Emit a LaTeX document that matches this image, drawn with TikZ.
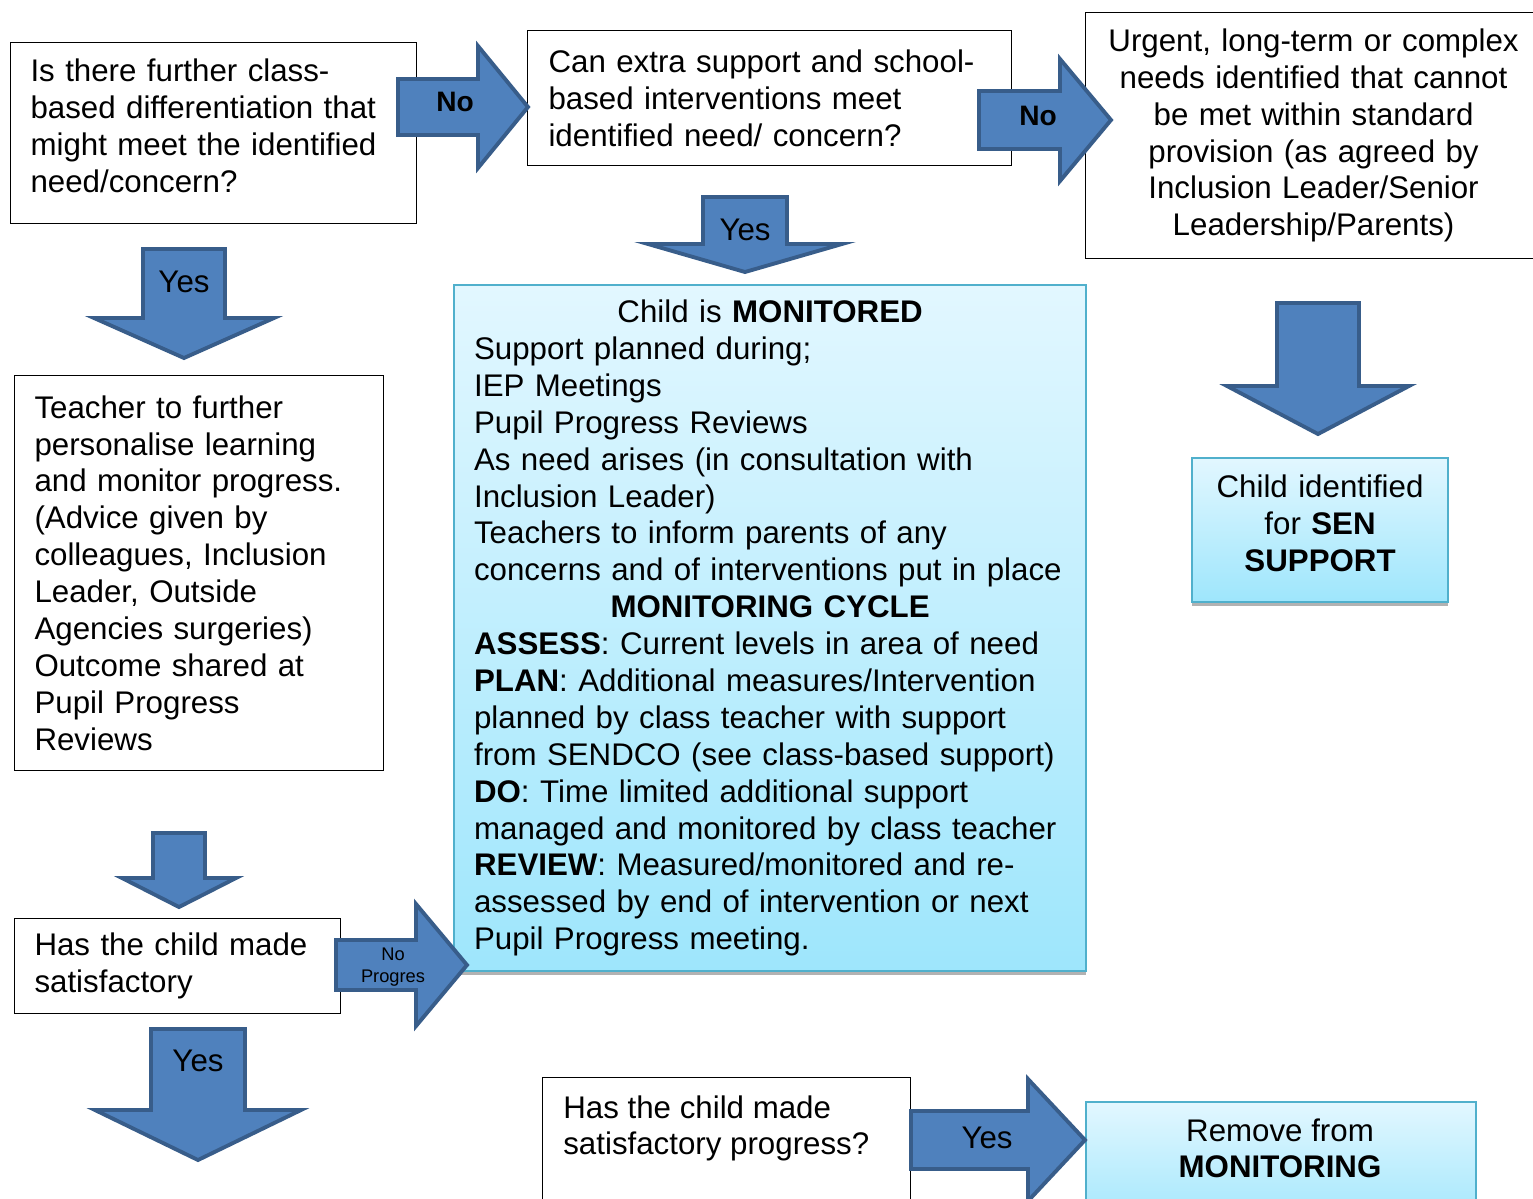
\documentclass[tikz,border=0pt]{standalone}
\usepackage{fontspec}
\setmainfont{Liberation Sans}
\usetikzlibrary{shadows}

\definecolor{arrfill}{RGB}{79,129,189}
\definecolor{arrline}{RGB}{56,93,138}
\definecolor{cyantop}{RGB}{226,247,255}
\definecolor{cyanbot}{RGB}{158,230,252}
\definecolor{cyanline}{RGB}{80,176,204}
\newlength{\pix}\setlength{\pix}{0.02cm}
\newcommand{\bodyfont}{\fontsize{17.8}{21}\selectfont}

% block arrows: start, head, tip, middle, half shaft, half head
\newcommand{\rightblock}[6]{%
  \filldraw[blockarr] (#1,#4-#5) -- (#2,#4-#5) -- (#2,#4-#6) -- (#3,#4)
    -- (#2,#4+#6) -- (#2,#4+#5) -- (#1,#4+#5) -- cycle;}
\newcommand{\downblock}[6]{%
  \filldraw[blockarr] (#4-#5,#1) -- (#4-#5,#2) -- (#4-#6,#2) -- (#4,#3)
    -- (#4+#6,#2) -- (#4+#5,#2) -- (#4+#5,#1) -- cycle;}

\begin{document}
\begin{tikzpicture}[x=0.02cm, y=-0.02cm,
    blockarr/.style={fill=arrfill, draw=arrline, line width=2.2pt, line join=miter},
    plainbox/.style={draw=black, line width=0.6pt, anchor=north west, inner xsep=20\pix,
      inner ysep=0pt, align=left, font=\bodyfont},
    cyanbox/.style={plainbox, draw=cyanline, line width=1.2pt, top color=cyantop, bottom color=cyanbot,
      drop shadow={shadow xshift=0pt, shadow yshift=-2.5pt, fill=black!30, opacity=1}},
    plaintext/.style={inner sep=0pt, font=\bodyfont},
    lbl/.style={inner sep=0pt, font=\bodyfont}]
    \useasboundingbox (0,0) rectangle (1533,1198);
    \clip (0,0) rectangle (1533,1198);

    % question boxes
    \node [plainbox, minimum width=406\pix, minimum height=181\pix, text width=366\pix, text depth=126\pix] (further) at (10,42)
      {Is there further class-\\based differentiation that\\might meet the identified\\need/concern?};
    \node [plainbox, minimum width=484\pix, minimum height=135\pix, text width=442\pix, inner xsep=21\pix] (extra) at (527,30)
      {Can extra support and school-\\based interventions meet\\identified need/ concern?};
    \node [plainbox, minimum width=456\pix, minimum height=246\pix, text width=416\pix, align=center] (urgent) at (1085,12)
      {\mbox{Urgent, long-term or complex}\\needs identified that cannot\\be met within standard\\provision (as agreed by\\Inclusion Leader/Senior\\Leadership/Parents)};
    \node [plainbox, minimum width=369\pix, minimum height=395\pix, text width=329\pix] (teacher) at (14,375)
      {Teacher to further\\personalise learning\\and monitor progress.\\(Advice given by\\colleagues, Inclusion\\Leader, Outside\\Agencies surgeries)\\Outcome shared at\\Pupil Progress\\Reviews};
    \node [plainbox, minimum width=326\pix, minimum height=95\pix, text width=286\pix] (made) at (14,918)
      {Has the child made\\satisfactory};
    \node [plainbox, minimum width=368\pix, minimum height=140\pix] (progress) at (542,1077) {};
    \node [plaintext, anchor=north west, align=left] (progresstext) at (563,1095)
      {Has the child made\\satisfactory progress?};

    % outcome boxes
    \node [cyanbox, minimum width=632\pix, minimum height=686\pix, text width=592\pix] (monitor) at (453,284)
      {\makebox[\hsize]{Child is \textbf{MONITORED}}\\
       Support planned during;\\
       IEP Meetings\\
       Pupil Progress Reviews\\
       As need arises (in consultation with\\
       Inclusion Leader)\\
       Teachers to inform parents of any\\
       \mbox{concerns and of interventions put in place}\\
       \makebox[\hsize]{\textbf{MONITORING CYCLE}}\\
       \textbf{ASSESS}: Current levels in area of need\\
       \mbox{\textbf{PLAN}: Additional measures/Intervention}\\
       planned by class teacher with support\\
       \mbox{from SENDCO (see class-based support)}\\
       \textbf{DO}: Time limited additional support\\
       \mbox{managed and monitored by class teacher}\\
       \textbf{REVIEW}: Measured/monitored and re-\\
       assessed by end of intervention or next\\
       Pupil Progress meeting.};
    \node [cyanbox, minimum width=256\pix, minimum height=144\pix, text width=216\pix, align=center, text depth=88\pix] (sen) at (1191,457)
      {Child identified\\for \textbf{SEN}\\\textbf{SUPPORT}};
    \node [cyanbox, minimum width=390\pix, minimum height=130\pix] (remove) at (1085,1101) {};
    \node [plaintext, anchor=north, align=center] (removetext) at (1280,1118)
      {Remove from\\\textbf{MONITORING}};

    % block arrows
    \rightblock{398}{478}{528}{107}{28}{61}
    \rightblock{979}{1060}{1111}{120}{29}{61}
    \rightblock{336}{416}{467}{965}{25}{61}
    \rightblock{911}{1028}{1085}{1140}{29}{61}
    \downblock{197}{244}{272}{745}{42}{97}
    \downblock{249}{318}{358}{184}{41}{90}
    \downblock{833}{878}{907}{179}{26}{57}
    \downblock{303}{386}{434}{1318}{41}{91}
    \downblock{1029}{1110}{1160}{198}{47}{103}

    % arrow labels
    \node [lbl, font=\fontsize{16}{19}\selectfont\bfseries] (nofurther) at (455,102) {No};
    \node [lbl, font=\fontsize{16}{19}\selectfont\bfseries] (noextra) at (1038,116) {No};
    \node [lbl] (yesextra) at (745,230) {Yes};
    \node [lbl] (yesfurther) at (184,282) {Yes};
    \node [lbl] (yesmade) at (198,1061) {Yes};
    \node [lbl] (yesprogress) at (987,1138) {Yes};
    \node [lbl, font=\fontsize{10.4}{12.5}\selectfont, align=center] (noprogress) at (393,967) {No\\Progres};
\end{tikzpicture}
\end{document}
